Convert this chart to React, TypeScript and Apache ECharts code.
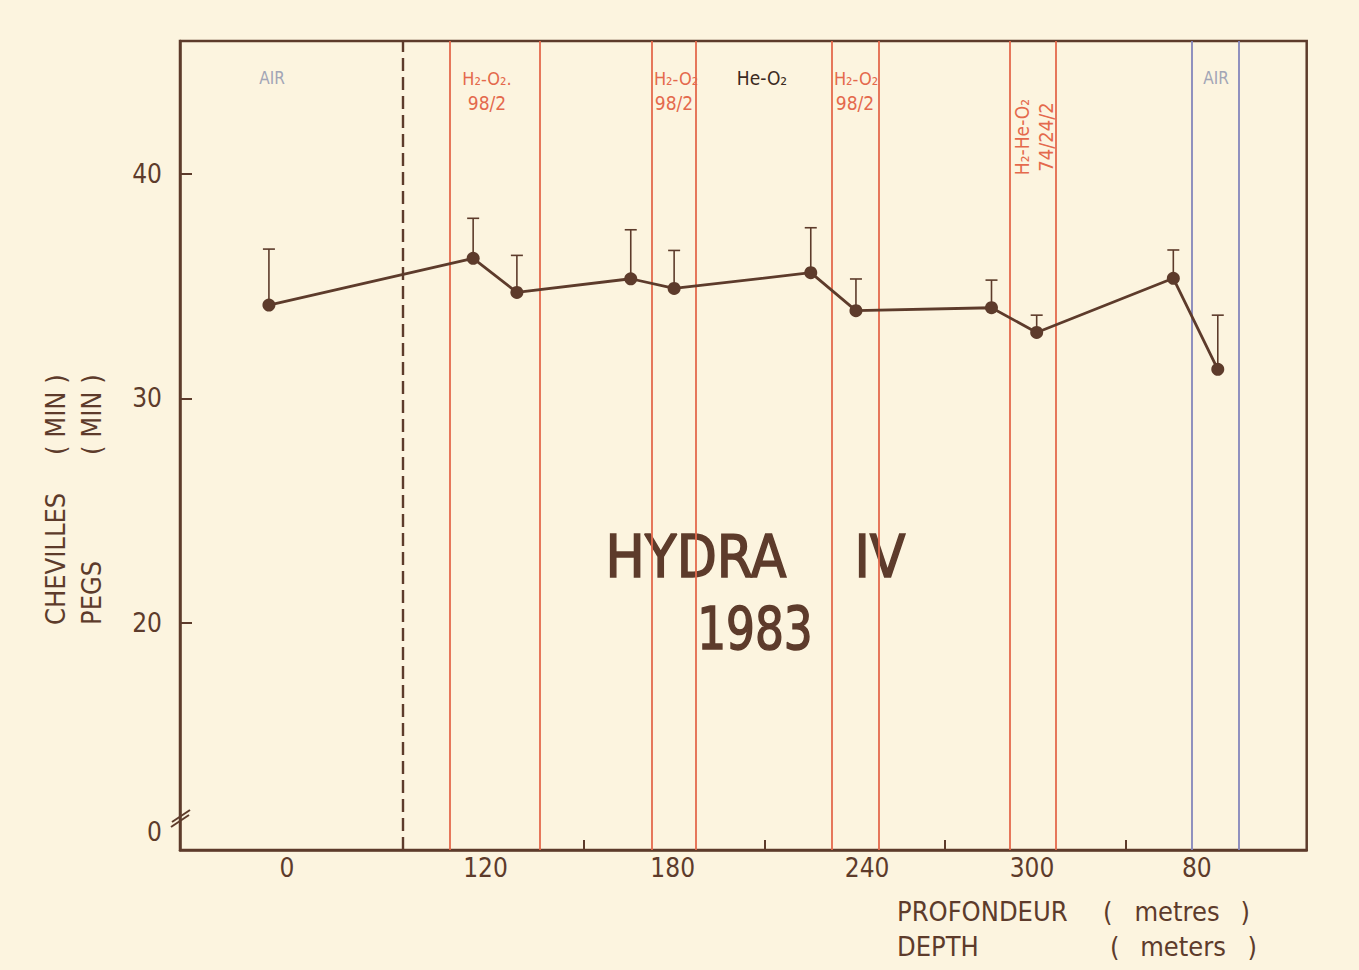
import React, { useEffect, useRef } from "react";
import * as echarts from "echarts";

// ---- data (x in days, day 0 = start of compression, dashed line) ----
const days = [-3.71, 1.94, 3.15, 6.3, 7.5, 11.28, 12.53, 16.28, 17.53, 21.31, 22.54];
const pegMeans = [34.15, 36.23, 34.71, 35.32, 34.89, 35.59, 33.9, 34.03, 32.93, 35.34, 31.29];
const pegSD = [2.49, 1.78, 1.65, 2.18, 1.69, 2.0, 1.41, 1.23, 0.77, 1.26, 2.41];

const depthLabelDays = [-3.21, 2.28, 7.46, 12.84, 17.4, 21.96];
const depthLabels = ["0", "120", "180", "240", "300", "80"];

const gasChangeDays = [1.3, 3.77, 6.88, 8.1, 11.86, 13.15, 16.79, 18.06];
const airReturnDays = [21.83, 23.12];
const compressionStartDay = [0];
const dayTicks = [5, 10, 15, 20];

const yTicks = [20, 30, 40];
const yLabelValues = [10.7, 20, 30, 40];

const X_MIN = -6.17;
const X_MAX = 25;
const Y_MIN = 9.9;
const Y_MAX = 45.9;

const BROWN = "#5d3b2b";
const RED = "#e4694c";
const BLUE = "#8486bb";
const GREY = "#a2a5b6";
const BG = "#fcf4df";
const FONT = "'DejaVu Sans Condensed', 'Liberation Sans Narrow', 'DejaVu Sans', sans-serif";

export default function App() {
  const ref = useRef<HTMLDivElement>(null);

  useEffect(() => {
    document.body.style.margin = "0";
    const chart = echarts.init(ref.current!, null, { renderer: "svg" });

    const lineData = days.map((d, i) => [d, pegMeans[i]]);
    const errData = days.map((d, i) => [d, pegMeans[i], pegMeans[i] + pegSD[i]]);

    const txt = (text: string, x: number, y: number, size: number, color: string, extra: any = {}) => ({
      type: "text",
      x,
      y,
      z: 0,
      silent: true,
      scaleX: extra.scaleX || 1,
      style: {
        text,
        fontSize: size,
        fontFamily: FONT,
        fill: color,
        textAlign: extra.align || "center",
        textVerticalAlign: "middle",
        stroke: extra.bold ? color : undefined,
        lineWidth: extra.bold || 0,
      },
      rotation: extra.rotation || 0,
    });

    const option: any = {
      animation: false,
      backgroundColor: BG,
      grid: {
        left: 180,
        top: 41,
        width: 1126.7,
        height: 809,
        show: true,
        borderColor: BROWN,
        borderWidth: 2.5,
        backgroundColor: "transparent",
      },
      xAxis: {
        type: "value",
        min: X_MIN,
        max: X_MAX,
        axisLine: { show: true, onZero: false, lineStyle: { color: BROWN, width: 2.5 } },
        axisTick: {
          show: true,
          inside: true,
          length: 10,
          customValues: dayTicks,
          lineStyle: { color: BROWN, width: 2 },
        },
        splitLine: { show: false },
        axisLabel: {
          customValues: depthLabelDays,
          margin: 5,
          fontSize: 26,
          fontFamily: FONT,
          color: BROWN,
          formatter: (v: number) => {
            const i = depthLabelDays.findIndex((d) => Math.abs(d - v) < 0.01);
            return i >= 0 ? depthLabels[i] : "";
          },
        },
      },
      yAxis: {
        type: "value",
        min: Y_MIN,
        max: Y_MAX,
        axisLine: { show: true, onZero: false, lineStyle: { color: BROWN, width: 2.5 } },
        axisTick: {
          show: true,
          inside: true,
          length: 12,
          customValues: yTicks,
          lineStyle: { color: BROWN, width: 2 },
        },
        splitLine: { show: false },
        axisLabel: {
          customValues: yLabelValues,
          margin: 18,
          fontSize: 26,
          fontFamily: FONT,
          color: BROWN,
          formatter: (v: number) => (v < 15 ? "0" : String(v)),
        },
      },
      series: [
        {
          type: "custom",
          name: "sd",
          z: 3,
          data: errData,
          encode: { x: 0, y: [1, 2] },
          renderItem: (params: any, api: any) => {
            const x = api.value(0);
            const p0 = api.coord([x, api.value(1)]);
            const p1 = api.coord([x, api.value(2)]);
            const st = { stroke: BROWN, lineWidth: 1.6 };
            return {
              type: "group",
              children: [
                { type: "line", shape: { x1: p0[0], y1: p0[1], x2: p1[0], y2: p1[1] }, style: st },
                { type: "line", shape: { x1: p1[0] - 6, y1: p1[1], x2: p1[0] + 6, y2: p1[1] }, style: st },
              ],
            };
          },
        },
        {
          type: "line",
          name: "pegs",
          z: 4,
          data: lineData,
          symbol: "circle",
          symbolSize: 13,
          itemStyle: { color: BROWN },
          lineStyle: { color: BROWN, width: 2.8 },
          markLine: {
            silent: true,
            symbol: "none",
            label: { show: false },
            z: 2,
            data: [
              ...gasChangeDays.map((v) => ({ xAxis: v, lineStyle: { color: RED, width: 1.8, type: "solid" } })),
              ...airReturnDays.map((v) => ({ xAxis: v, lineStyle: { color: BLUE, width: 1.8, type: "solid" } })),
              ...compressionStartDay.map((v) => ({
                xAxis: v,
                lineStyle: { color: BROWN, width: 2.4, type: [13, 6] },
              })),
            ],
          },
        },
      ],
      graphic: [
        // axis break
        { type: "line", z: 10, shape: { x1: 171, y1: 827, x2: 189, y2: 815 }, style: { stroke: BROWN, lineWidth: 2 } },
        { type: "line", z: 10, shape: { x1: 172, y1: 822, x2: 190, y2: 810 }, style: { stroke: BROWN, lineWidth: 2 } },
        // phase labels
        txt("AIR", 272, 78, 17, GREY),
        txt("H₂-O₂.", 487, 78, 18, RED),
        txt("98/2", 487, 103, 19, RED),
        txt("H₂-O₂", 676, 78, 18, RED),
        txt("98/2", 674, 103, 19, RED),
        txt("He-O₂", 762, 78, 19, "#3b2a22"),
        txt("H₂-O₂", 856, 78, 18, RED),
        txt("98/2", 855, 103, 19, RED),
        txt("H₂-He-O₂", 1022, 137, 19, RED, { rotation: Math.PI / 2 }),
        txt("74/24/2", 1046, 137, 20, RED, { rotation: Math.PI / 2 }),
        txt("AIR", 1216, 78, 17, GREY),
        // title
        txt("HYDRA", 696, 557, 58, BROWN, { bold: 1.5 }),
        txt("IV", 880, 557, 58, BROWN, { bold: 1.5 }),
        txt("1983", 755, 629, 58, BROWN, { bold: 1.5, scaleX: 0.87 }),
        // y axis name
        txt("CHEVILLES", 55, 625, 27, BROWN, { rotation: Math.PI / 2, align: "left" }),
        txt("( MIN )", 55, 455, 27, BROWN, { rotation: Math.PI / 2, align: "left" }),
        txt("PEGS", 91, 625, 27, BROWN, { rotation: Math.PI / 2, align: "left" }),
        txt("( MIN )", 91, 455, 27, BROWN, { rotation: Math.PI / 2, align: "left" }),
        // x axis name
        txt("PROFONDEUR", 897, 911, 27, BROWN, { align: "left" }),
        txt("(", 1103, 911, 27, BROWN, { align: "left" }),
        txt("metres", 1177, 911, 27, BROWN),
        txt(")", 1250, 911, 27, BROWN, { align: "right" }),
        txt("DEPTH", 897, 946, 27, BROWN, { align: "left" }),
        txt("(", 1110, 946, 27, BROWN, { align: "left" }),
        txt("meters", 1183, 946, 27, BROWN),
        txt(")", 1257, 946, 27, BROWN, { align: "right" }),
      ],
    };

    chart.setOption(option);
    return () => chart.dispose();
  }, []);

  return <div ref={ref} style={{ width: 1359, height: 970, background: BG }} />;
}
